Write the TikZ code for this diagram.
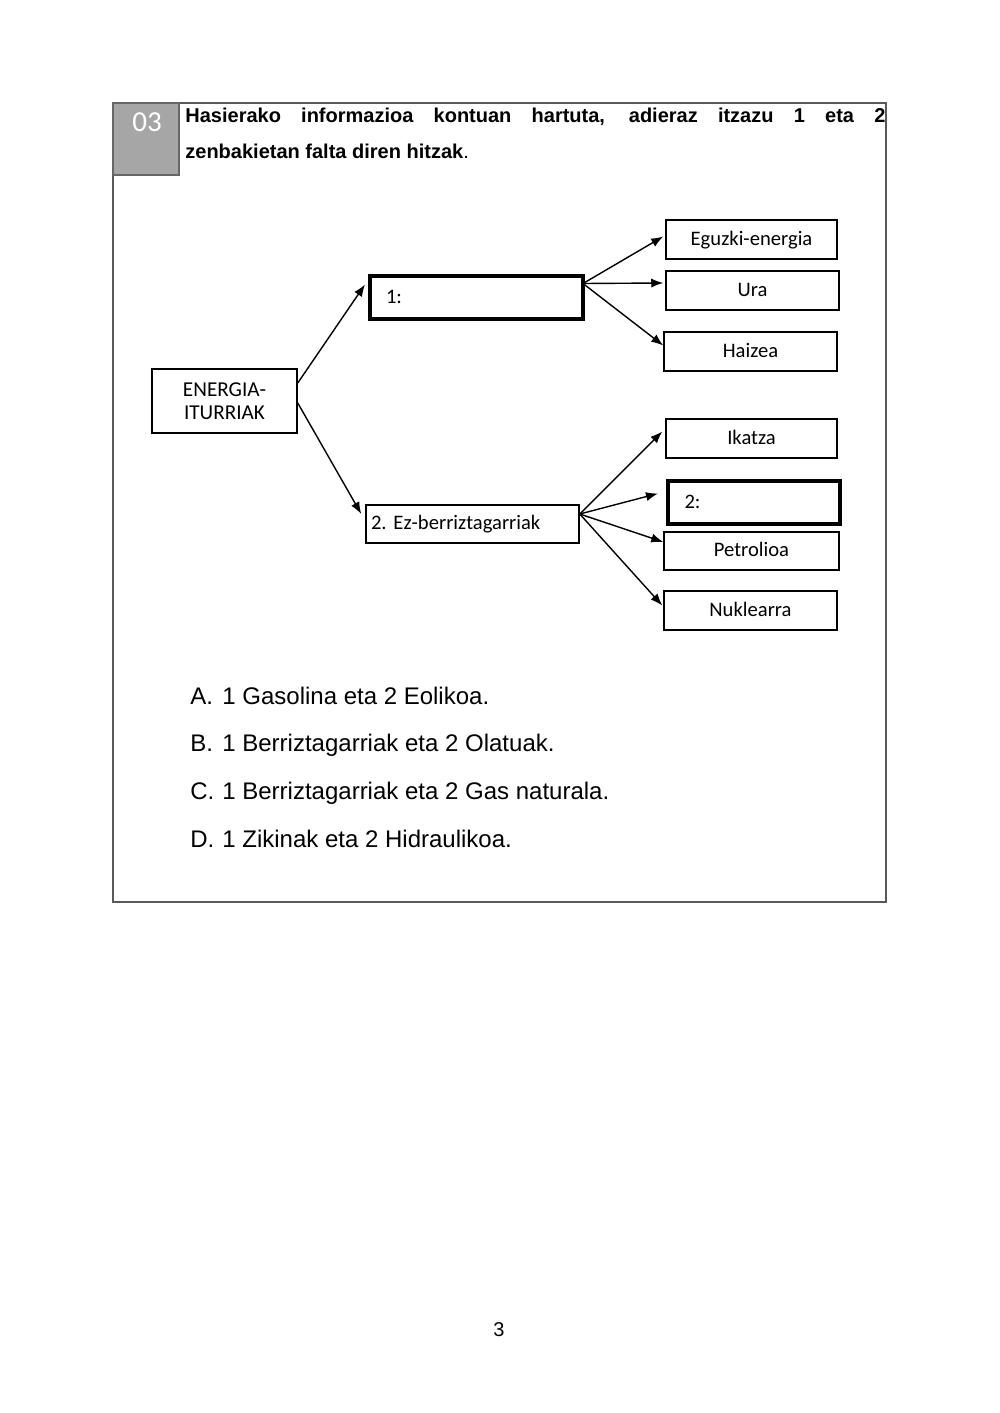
\documentclass[tikz,border=0pt]{standalone}
\usepackage{fontspec}
\setmainfont{Liberation Sans}
\newfontfamily\calfont{Carlito}
\usetikzlibrary{arrows.meta,calc}
\definecolor{hdrgray}{HTML}{A6A6A6}
\tikzset{
  basebox/.style={draw=black,line width=0.75pt,inner sep=0pt},
  sbox/.style={basebox,font=\calfont\fontsize{10.3}{12}\selectfont,text height=7pt,text depth=1.5pt},
  thickbox/.style={sbox,line width=2pt},
  arr/.style={-{Latex[length=6pt,width=4.6pt]},line width=0.7pt,black},
  opt/.style={anchor=base west,inner sep=0pt,font=\fontsize{12}{14}\selectfont}
}
\begin{document}
\begin{tikzpicture}[x=0.5pt,y=-0.5pt]
\useasboundingbox (0,0) rectangle (1000,1413);
\fill[white] (0,0) rectangle (1000,1413);
% frame and header
\draw[line width=0.6pt,black!65] (113,103) rectangle (886,902);
\draw[fill=hdrgray,draw=black!60,line width=0.6pt] (113,103) rectangle (179,175);
\node[text=white,font=\calfont\fontsize{14.5}{16}\selectfont,inner sep=0pt] (num) at (147,122) {03};
\node[anchor=base west,inner sep=0pt,font=\bfseries\fontsize{10}{12}\selectfont] (t1) at (185,123)
  {\makebox[350pt][s]{Hasierako informazioa kontuan hartuta, adieraz itzazu 1 eta 2}};
\node[anchor=base west,inner sep=0pt,font=\fontsize{10}{12}\selectfont] (t2) at (185,158)
  {\textbf{zenbakietan falta diren hitzak}.};
% diagram boxes
\node[basebox,minimum width=72.5pt,minimum height=32pt,align=center,font=\calfont\fontsize{10.6}{11.5}\selectfont] (energ) at (224.5,401) {ENERGIA-\\ITURRIAK};
\node[thickbox,minimum height=21.5pt,text width=90.5pt,inner xsep=8pt,align=left] (one) at (476.5,297.5) {1:};
\node[sbox,minimum height=19pt,text width=101.5pt,inner xsep=2.5pt,align=left] (two) at (472.5,524) {2.\ Ez-berriztagarriak};
\node[sbox,minimum width=85.5pt,minimum height=19.5pt] (egu) at (751.5,239.5) {Eguzki-energia};
\node[sbox,minimum width=86.5pt,minimum height=19.5pt] (ura) at (752.5,290.5) {Ura};
\node[sbox,minimum width=86.5pt,minimum height=19.5pt] (hai) at (750.5,351.5) {Haizea};
\node[sbox,minimum width=85.5pt,minimum height=19.5pt] (ika) at (751.5,438.5) {Ikatza};
\node[thickbox,minimum height=21.5pt,text width=69.5pt,inner xsep=8.25pt,align=left] (tw2) at (754,502.5) {2:};
\node[sbox,minimum width=87.5pt,minimum height=19pt] (pet) at (751.5,551) {Petrolioa};
\node[sbox,minimum width=86.5pt,minimum height=19.5pt] (nuk) at (750.5,610.5) {Nuklearra};
% connectors
\draw[arr] ($(energ.east)+(0,-18)$) -- ($(one.west)+(-3,-13)$);
\draw[arr] ($(energ.east)+(0,2)$) -- ($(two.west)+(-4,-10)$);
\draw[arr] ($(one.east)+(-2,-14)$) -- ($(egu.west)+(-2,-3)$);
\draw[arr] ($(one.east)+(-2,-14)$) -- ($(ura.west)+(-2,-7.5)$);
\draw[arr] ($(one.east)+(-2,-14)$) -- ($(hai.west)+(0,-6)$);
\draw[arr] ($(two.east)+(0,-10)$) -- ($(ika.west)+(-3,-7)$);
\draw[arr] ($(two.east)+(0,-10)$) -- ($(tw2.west)+(-8,-9)$);
\draw[arr] ($(two.east)+(0,-10)$) -- ($(pet.west)+(0,-9)$);
\draw[arr] ($(two.east)+(0,-10)$) -- ($(nuk.west)+(-1,-5)$);
% options
\node[opt] (la) at (190,704) {A.};
\node[opt] (oa) at (222,704) {1 Gasolina eta 2 Eolikoa.};
\node[opt] (lb) at (190,751) {B.};
\node[opt] (ob) at (222,751) {1 Berriztagarriak eta 2 Olatuak.};
\node[opt] (lc) at (190,799) {C.};
\node[opt] (oc) at (222,799) {1 Berriztagarriak eta 2 Gas naturala.};
\node[opt] (ld) at (190,847) {D.};
\node[opt] (od) at (222,847) {1 Zikinak eta 2 Hidraulikoa.};
% page number
\node[inner sep=0pt,font=\fontsize{10}{12}\selectfont] (pg) at (499,1330) {3};
\end{tikzpicture}
\end{document}
